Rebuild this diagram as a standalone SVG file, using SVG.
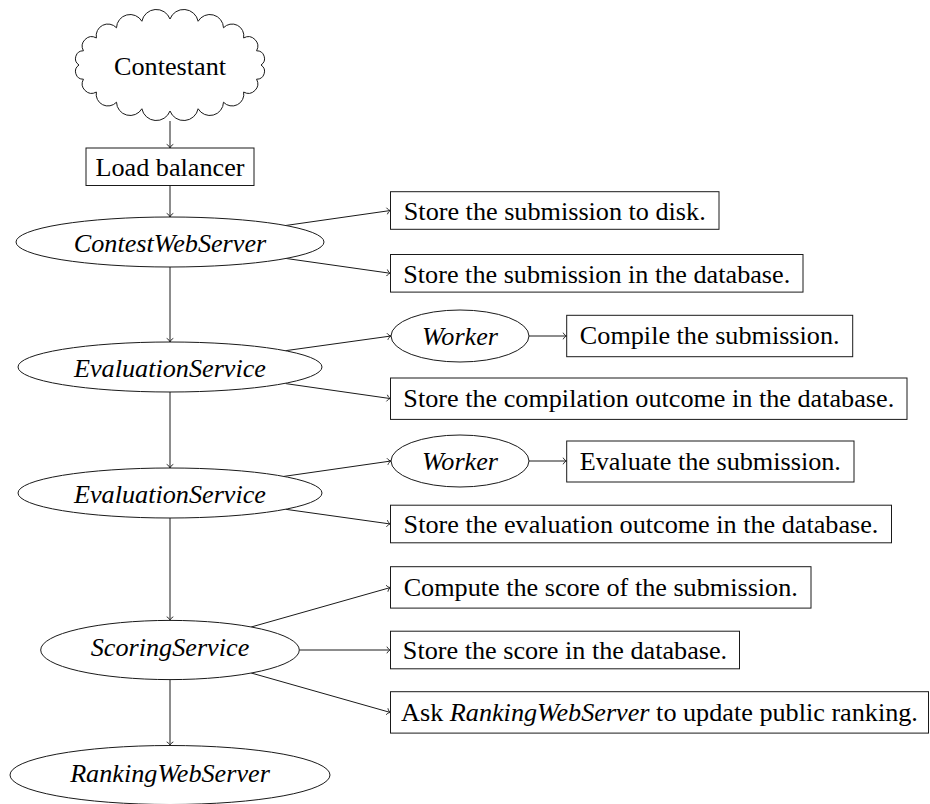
<svg xmlns="http://www.w3.org/2000/svg" width="930" height="804" viewBox="0 0 930 804">
<defs>
<style>
.n{fill:#fff;stroke:#1a1a1a;stroke-width:1}
.t{font-family:"Liberation Serif","Times New Roman",serif;font-size:26.2px;fill:#000}
.c{text-anchor:middle}
.i{font-style:italic}
.e{fill:none;stroke:#1a1a1a;stroke-width:1;marker-end:url(#arr)}
</style>
<marker id="arr" viewBox="-5 -5 6 10" refX="0" refY="0" markerWidth="6" markerHeight="10" markerUnits="userSpaceOnUse" orient="auto" overflow="visible">
<path d="M -3.6 -3.3 C -2.6 -1.4 -1.2 -0.3 0 0 C -1.2 0.3 -2.6 1.4 -3.6 3.3" fill="none" stroke="#1a1a1a" stroke-width="0.9"/>
</marker>
</defs>
<rect width="930" height="804" fill="#fff"/>
<g id="connectors">
<line class="e" x1="170" y1="121" x2="170" y2="148"/>
<line class="e" x1="170" y1="185.5" x2="170" y2="217"/>
<line class="e" x1="170" y1="267" x2="170" y2="342"/>
<line class="e" x1="170" y1="392" x2="170" y2="468"/>
<line class="e" x1="170" y1="518" x2="170" y2="620.4"/>
<line class="e" x1="170" y1="679.6" x2="170" y2="745.5"/>
<line class="e" x1="285.6" y1="225.5" x2="390.5" y2="210.5"/>
<line class="e" x1="285.6" y1="258.4" x2="390.5" y2="273.3"/>
<line class="e" x1="285.4" y1="350.7" x2="391" y2="336"/>
<line class="e" x1="285.7" y1="383.6" x2="390.5" y2="398.6"/>
<line class="e" x1="529" y1="336" x2="566.7" y2="336"/>
<line class="e" x1="283.9" y1="476.4" x2="391" y2="461"/>
<line class="e" x1="285.7" y1="509.3" x2="390.5" y2="524"/>
<line class="e" x1="529" y1="461" x2="566.7" y2="461"/>
<line class="e" x1="251.2" y1="627" x2="390.5" y2="587.5"/>
<line class="e" x1="299.3" y1="650" x2="390.5" y2="650"/>
<line class="e" x1="251.2" y1="673" x2="390.5" y2="712.5"/>
</g>
<g id="contestant">
<path class="n" d="M 261 65 A 7.74 7.74 0 0 1 256.55 79.21 A 9.47 9.47 0 0 1 243.62 92.04 A 11.73 11.73 0 0 1 223.49 102.21 A 13.62 13.62 0 0 1 198.12 108.75 A 14.67 14.67 0 0 1 170 111 A 14.67 14.67 0 0 1 141.88 108.75 A 13.62 13.62 0 0 1 116.51 102.21 A 11.73 11.73 0 0 1 96.38 92.04 A 9.47 9.47 0 0 1 83.45 79.21 A 7.74 7.74 0 0 1 79 65 A 7.74 7.74 0 0 1 83.45 50.79 A 9.47 9.47 0 0 1 96.38 37.96 A 11.73 11.73 0 0 1 116.51 27.79 A 13.62 13.62 0 0 1 141.88 21.25 A 14.67 14.67 0 0 1 170 19 A 14.67 14.67 0 0 1 198.12 21.25 A 13.62 13.62 0 0 1 223.49 27.79 A 11.73 11.73 0 0 1 243.62 37.96 A 9.47 9.47 0 0 1 256.55 50.79 A 7.74 7.74 0 0 1 261 65 Z"/>
<text class="t c" x="170" y="75">Contestant</text>
</g>
<g id="load-balancer">
<rect class="n" x="86" y="148" width="168" height="37.5"/>
<text class="t c" x="170" y="176">Load balancer</text>
</g>
<g id="contest-web-server">
<ellipse class="n" cx="170" cy="242" rx="154" ry="25"/>
<text class="t c i" x="170" y="251.5">ContestWebServer</text>
</g>
<g id="store-disk">
<rect class="n" x="390.5" y="191.7" width="328.5" height="37.6"/>
<text class="t c" x="554.75" y="219.7">Store the submission to disk.</text>
</g>
<g id="store-db">
<rect class="n" x="390.5" y="254.5" width="412.5" height="37.6"/>
<text class="t c" x="596.75" y="282.5">Store the submission in the database.</text>
</g>
<g id="evaluation-service-1">
<ellipse class="n" cx="170" cy="367" rx="152" ry="25"/>
<text class="t c i" x="170" y="376.5">EvaluationService</text>
</g>
<g id="worker-1">
<ellipse class="n" cx="460" cy="336" rx="69" ry="26"/>
<text class="t c i" x="460" y="345">Worker</text>
</g>
<g id="compile">
<rect class="n" x="566.7" y="315.3" width="286" height="41.4"/>
<text class="t c" x="709.7" y="344.3">Compile the submission.</text>
</g>
<g id="store-compilation">
<rect class="n" x="390.5" y="378" width="516.5" height="41.4"/>
<text class="t c" x="648.75" y="407">Store the compilation outcome in the database.</text>
</g>
<g id="evaluation-service-2">
<ellipse class="n" cx="170" cy="493" rx="152" ry="25"/>
<text class="t c i" x="170" y="502.5">EvaluationService</text>
</g>
<g id="worker-2">
<ellipse class="n" cx="460" cy="461" rx="69" ry="26"/>
<text class="t c i" x="460" y="470">Worker</text>
</g>
<g id="evaluate">
<rect class="n" x="566.7" y="441" width="287.3" height="41"/>
<text class="t c" x="710.35" y="470">Evaluate the submission.</text>
</g>
<g id="store-evaluation">
<rect class="n" x="390.5" y="505.2" width="501" height="37.6"/>
<text class="t c" x="641" y="533.2">Store the evaluation outcome in the database.</text>
</g>
<g id="scoring-service">
<ellipse class="n" cx="170" cy="650" rx="129.3" ry="29.6"/>
<text class="t c i" x="170" y="656">ScoringService</text>
</g>
<g id="compute-score">
<rect class="n" x="390.5" y="566.7" width="420.5" height="41.4"/>
<text class="t c" x="600.75" y="595.5">Compute the score of the submission.</text>
</g>
<g id="store-score">
<rect class="n" x="390.5" y="631.2" width="349" height="37.6"/>
<text class="t c" x="565" y="659.2">Store the score in the database.</text>
</g>
<g id="ask-ranking">
<rect class="n" x="390.5" y="691.7" width="538" height="41.4"/>
<text class="t c" x="659.5" y="720.5">Ask <tspan class="i">RankingWebServer</tspan> to update public ranking.</text>
</g>
<g id="ranking-web-server">
<ellipse class="n" cx="170" cy="775" rx="160" ry="29.5"/>
<text class="t c i" x="170" y="781.5">RankingWebServer</text>
</g>
</svg>
